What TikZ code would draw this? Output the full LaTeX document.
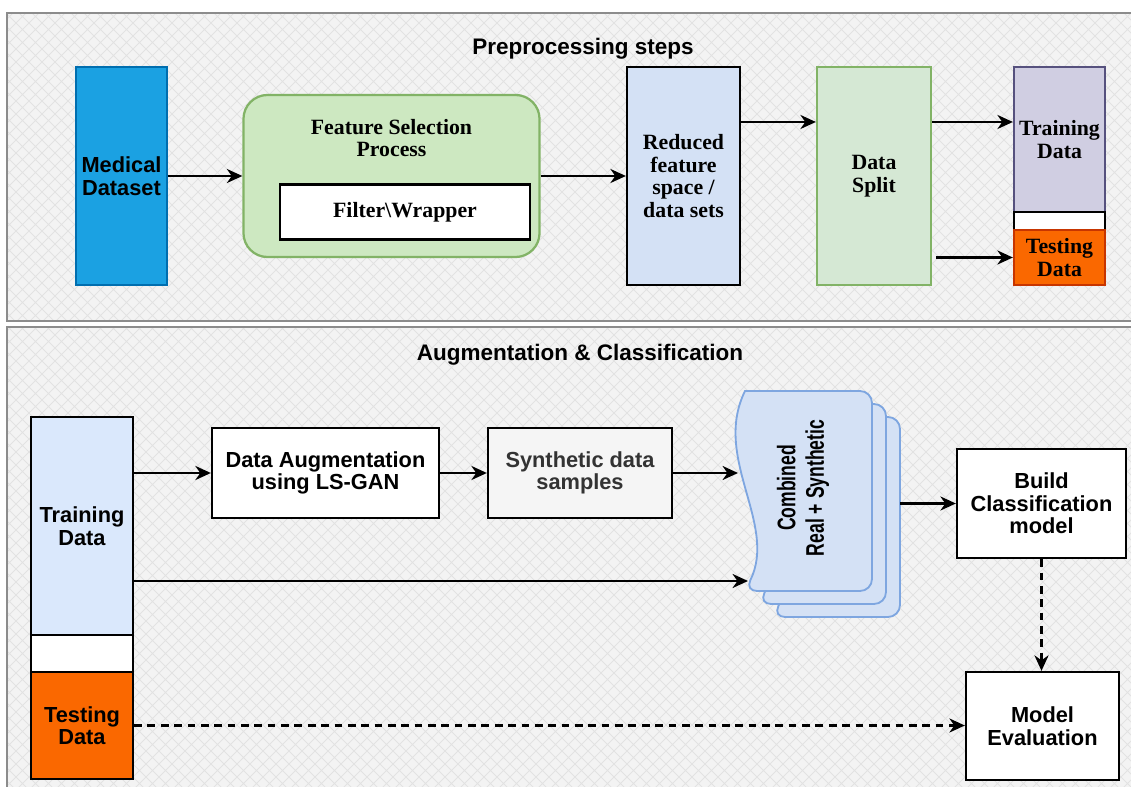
\documentclass[tikz,border=0pt]{standalone}
\usepackage{fontspec}
\setmainfont{Liberation Serif}
\setsansfont{Liberation Sans}
\usepackage{graphicx}
\usetikzlibrary{arrows.meta,positioning}

\definecolor{panelbg}{HTML}{F3F3F3}
\definecolor{lattice}{HTML}{E2E2E2}
\definecolor{panelline}{HTML}{8C8C8C}
\definecolor{medblue}{HTML}{1BA1E2}
\definecolor{medline}{HTML}{006EAF}
\definecolor{lgreen}{HTML}{CDE8C1}
\definecolor{pgreen}{HTML}{D5E8D4}
\definecolor{dgreen}{HTML}{82B366}
\definecolor{lblue}{HTML}{D4E1F5}
\definecolor{tblue}{HTML}{DAE8FC}
\definecolor{docline}{HTML}{7EA6E0}
\definecolor{lpurple}{HTML}{D0CEE2}
\definecolor{dpurple}{HTML}{56517E}
\definecolor{orng}{HTML}{FA6800}
\definecolor{dorng}{HTML}{C73500}
\definecolor{lgray}{HTML}{F5F5F5}

\tikzset{
	arr/.style={line width=1.6pt,-{Stealth[length=11pt,width=10pt,inset=3.5pt]}},
	dasharr/.style={arr,dash pattern=on 5.5pt off 4pt},
	sfbox/.style={draw,line width=1.6pt,align=center,inner sep=2pt,
		font=\sffamily\bfseries\fontsize{15.5}{16}\selectfont},
	rmbox/.style={draw,line width=1.6pt,align=center,inner sep=2pt,
		font=\rmfamily\bfseries\fontsize{15.5}{16}\selectfont},
	paneltitle/.style={font=\sffamily\bfseries\fontsize{16}{18}\selectfont},
	docpage/.style={draw=docline,fill=lblue,line width=1.3pt},
}

\begin{document}
\begin{tikzpicture}[x=0.025cm,y=-0.025cm]
	\useasboundingbox (0,0) rectangle (1131,787);
	% panels
	\fill[panelbg] (7,13) rectangle (1140,321);
	\fill[panelbg] (7,327) rectangle (1140,800);
	\begin{scope}
		\clip (7,13) rectangle (1140,321) (7,327) rectangle (1140,800);
		\foreach \i in {-800,-787,...,1140} {
			\draw[lattice,line width=0.6pt] (\i,0) -- ++(800,800);
			\draw[lattice,line width=0.6pt] (\i+800,0) -- ++(-800,800);
		}
	\end{scope}
	\draw[panelline,line width=1.5pt] (1140,13) -- (7,13) -- (7,321) -- (1140,321);
	\draw[panelline,line width=1.5pt] (1140,327) -- (7,327) -- (7,800);

	% preprocessing
	\node[paneltitle] (pretitle) at (583,49) {Preprocessing steps};
	\node[sfbox,draw=medline,fill=medblue,minimum width=2.275cm,minimum height=5.45cm] (med) at (121.5,176) {Medical\\Dataset};
	\node[draw=dgreen,fill=lgreen,line width=1.6pt,rounded corners=0.6cm,minimum width=7.4cm,minimum height=4.05cm] (fsel) at (391.5,176) {};
	\node[rmbox,draw=none] (fseltitle) at (391.5,138) {Feature Selection\\Process};
	\node[rmbox,fill=white,minimum width=6.25cm,minimum height=1.375cm] (filt) at (405,212) {Filter\textbackslash Wrapper};
	\node[rmbox,fill=lblue,minimum width=2.825cm,minimum height=5.45cm] (red) at (683.5,176) {Reduced\\feature\\space /\\data sets};
	\node[rmbox,draw=dgreen,fill=pgreen,minimum width=2.85cm,minimum height=5.45cm] (split) at (874,176) {Data\\Split};
	\node[rmbox,draw=dpurple,fill=lpurple,minimum width=2.275cm,minimum height=3.625cm] (trn1) at (1059.5,139.5) {Training\\Data};
	\node[draw,fill=white,line width=1.6pt,minimum width=2.275cm,minimum height=0.45cm] (gap1) at (1059.5,221) {};
	\node[rmbox,draw=dorng,fill=orng,minimum width=2.275cm,minimum height=1.375cm] (tst1) at (1059.5,257.5) {Testing\\Data};

	\draw[arr] (med) -- (fsel);
	\draw[arr] (fsel) -- (red);
	\draw[arr] ([yshift=1.35cm]red.east) -- ([yshift=1.35cm]split.west);
	\draw[arr] ([yshift=1.35cm]split.east) -- ([yshift=1.35cm]split.east -| trn1.west);
	\draw[arr] ([xshift=0.1cm]split.east |- tst1.west) -- (tst1.west);

	% augmentation and classification
	\node[paneltitle] (augtitle) at (580,355) {Augmentation \& Classification};
	\node[sfbox,fill=tblue,minimum width=2.55cm,minimum height=5.45cm] (trn2) at (82,526) {Training\\Data};
	\node[draw,fill=white,line width=1.6pt,minimum width=2.55cm,minimum height=0.925cm] (gap2) at (82,653.5) {};
	\node[sfbox,fill=orng,minimum width=2.55cm,minimum height=2.675cm] (tst2) at (82,725.5) {Testing\\Data};
	\node[sfbox,fill=white,minimum width=5.675cm,minimum height=2.25cm] (aug) at (325.5,473) {Data Augmentation\\using LS-GAN};
	\node[sfbox,fill=lgray,text=black!80,minimum width=4.6cm,minimum height=2.25cm] (syn) at (580,473) {Synthetic data\\samples};

	\foreach \d in {2,1,0} {
		\draw[docpage] (745+14*\d,391+13*\d) [rounded corners=0.3cm] -- (872+14*\d,391+13*\d)
			-- (872+14*\d,591+13*\d) -- (745+14*\d,591+13*\d) [sharp corners]
			.. controls (778+14*\d,524+13*\d) and (712+14*\d,458+13*\d) .. (745+14*\d,391+13*\d) -- cycle;
	}
	\node[minimum width=3.4cm,minimum height=5cm,font=\sffamily\bfseries\fontsize{12.5}{14}\selectfont] (comb) at (804,488)
		{\rotatebox{90}{\scalebox{1}[1.45]{\begin{tabular}{@{}c@{}}Combined\\Real + Synthetic\end{tabular}}}};
	\coordinate (wavein) at (738,473);
	\coordinate (wavelow) at (748,581);

	\node[sfbox,fill=white,minimum width=4.225cm,minimum height=2.725cm] (build) at (1041.5,503.5) {Build\\Classification\\model};
	\node[sfbox,fill=white,minimum width=3.825cm,minimum height=2.7cm] (eval) at (1042.5,726) {Model\\Evaluation};

	\draw[arr] (trn2.east |- aug.west) -- (aug.west);
	\draw[arr] (aug) -- (syn);
	\draw[arr] (syn.east) -- (wavein);
	\draw[arr] (trn2.east |- wavelow) -- (wavelow);
	\draw[arr] ([xshift=0.7cm]comb.east |- build.west) -- (build.west);
	\draw[dasharr] (build.south) -- (build.south |- eval.north);
	\draw[dasharr] (tst2.east) -- (tst2.east -| eval.west);
\end{tikzpicture}
\end{document}
